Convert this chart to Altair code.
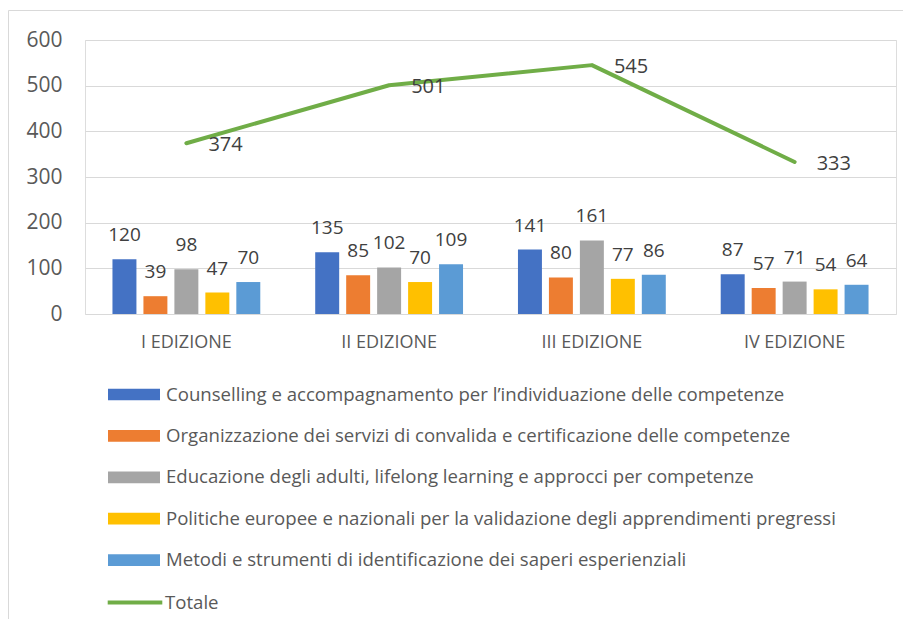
import altair as alt
import pandas as pd

categories = ["I EDIZIONE", "II EDIZIONE", "III EDIZIONE", "IV EDIZIONE"]
series = [
    "Counselling e accompagnamento per l’individuazione delle competenze",
    "Organizzazione dei servizi di convalida e certificazione delle competenze",
    "Educazione degli adulti, lifelong learning e approcci per competenze",
    "Politiche europee e nazionali per la validazione degli apprendimenti pregressi",
    "Metodi e strumenti di identificazione dei saperi esperienziali",
]
counselling = [120, 135, 141, 87]
organizzazione = [39, 85, 80, 57]
educazione = [98, 102, 161, 71]
politiche = [47, 70, 77, 54]
metodi = [70, 109, 86, 64]
totale = [374, 501, 545, 333]
colors = ["#4472C4", "#ED7D31", "#A5A5A5", "#FFC000", "#5B9BD5"]
line_color = "#70AD47"

rows = []
for s, vals in zip(series, [counselling, organizzazione, educazione, politiche, metodi]):
    for c, v in zip(categories, vals):
        rows.append({"edizione": c, "serie": s, "valore": v})
df_bars = pd.DataFrame(rows)
df_line = pd.DataFrame({"edizione": categories, "linea": ["Totale"] * 4, "valore": totale})

FONT = "Open Sans"

x_enc = alt.X(
    "edizione:N", sort=categories, title=None,
    scale=alt.Scale(paddingInner=0, paddingOuter=0),
    axis=alt.Axis(labelAngle=0, domain=False, ticks=False, labelPadding=19,
                  labelFontSize=18, labelColor="#595959", labelFont=FONT),
)
y_enc = alt.Y(
    "valore:Q", title=None,
    scale=alt.Scale(domain=[0, 600]),
    axis=alt.Axis(values=[0, 100, 200, 300, 400, 500, 600], domain=False, ticks=False,
                  labelPadding=23, labelFontSize=21, labelColor="#595959", labelFont=FONT,
                  gridColor="#D9D9D9", gridWidth=1.2),
)
xoff = alt.XOffset("serie:N", sort=series,
                   scale=alt.Scale(paddingInner=0.226, paddingOuter=0.887))

bars = alt.Chart(df_bars).mark_bar().encode(
    x=x_enc, y=y_enc, xOffset=xoff,
    color=alt.Color(
        "serie:N", sort=series, title=None,
        scale=alt.Scale(domain=series, range=colors),
        legend=alt.Legend(
            orient="none", legendX=36, legendY=341.5, direction="vertical",
            symbolType="M-2,-0.45H2V0.45H-2Z", symbolSize=676, symbolStrokeWidth=0,
            symbolOpacity=1, rowPadding=18.4, labelOffset=19, labelLimit=900,
            labelFontSize=18.6, labelColor="#595959", labelFont=FONT, padding=0,
        ),
    ),
)

bar_labels = alt.Chart(df_bars).mark_text(
    baseline="middle", align="center", dy=-24, fontSize=19, color="#404040", font=FONT
).encode(x=alt.X("edizione:N", sort=categories), y="valore:Q", xOffset=xoff, text="valore:Q")

line = alt.Chart(df_line).mark_line(strokeWidth=4, strokeCap="round", strokeJoin="round").encode(
    x=alt.X("edizione:N", sort=categories),
    y="valore:Q",
    stroke=alt.Stroke(
        "linea:N", title=None,
        scale=alt.Scale(domain=["Totale"], range=[line_color]),
        legend=alt.Legend(
            orient="none", legendX=35, legendY=547.5, direction="vertical",
            symbolType="M-2.1,0H2.1", symbolSize=676, symbolStrokeWidth=4,
            labelOffset=15, labelLimit=900,
            labelFontSize=18.6, labelColor="#595959", labelFont=FONT, padding=0,
        ),
    ),
)

line_labels = alt.Chart(df_line).mark_text(
    baseline="middle", align="left", dx=22, dy=2, fontSize=20, color="#404040", font=FONT
).encode(x=alt.X("edizione:N", sort=categories), y="valore:Q", text="valore:Q")

frame = alt.Chart(pd.DataFrame({"f": [0]})).mark_rect(
    fill="transparent", stroke="#D9D9D9", strokeWidth=1
).encode(x=alt.value(-76.5), x2=alt.value(840), y=alt.value(-29.5), y2=alt.value(640))

chart = alt.layer(frame, bars, bar_labels, line, line_labels).properties(
    width=811, height=274,
    autosize=alt.AutoSizeParams(type="none"),
    padding={"left": 77, "top": 32, "right": 7, "bottom": 305},
).configure_view(strokeWidth=0).configure(background="white")

chart.save("out.html", embed_options={"renderer": "svg", "actions": False})
